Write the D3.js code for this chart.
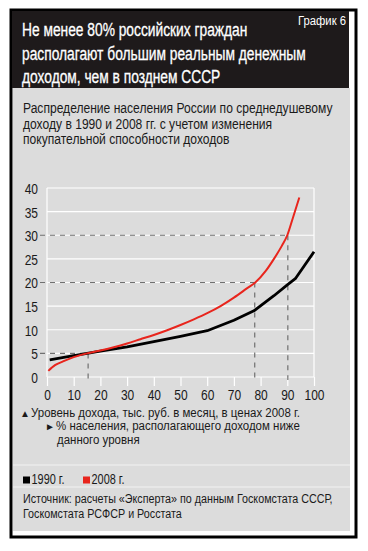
<!DOCTYPE html>
<html><head><meta charset="utf-8">
<script src="https://cdn.jsdelivr.net/npm/d3@7"></script>
<style>
body{margin:0;background:#fff}
svg{display:block}
text{font-family:"Liberation Sans",Arial,sans-serif}
</style>
</head><body>
<svg id="c" width="368" height="551"></svg>
<script>
// ---- data ----
const titleLines = ["Не менее 80% российских граждан", "располагают большим реальным денежным", "доходом, чем в позднем СССР"];
const chartNo = "График 6";
const subtitleLines = ["Распределение населения России по среднедушевому", "доходу в 1990 и 2008 гг. с учетом изменения", "покупательной способности доходов"];
const xTicks = [0,10,20,30,40,50,60,70,80,90,100];
const yTicks = [0,5,10,15,20,25,30,35,40];
const pop1990 = [1, 10, 15, 20, 30, 40, 50, 60, 70, 77.5, 85, 90, 93, 100];
const inc1990 = [3.6, 4.5, 5.0, 5.5, 6.4, 7.5, 8.6, 9.8, 12.0, 14.0, 17.2, 19.5, 20.8, 26.5];
const pop2008 = [0.5, 3, 6, 10, 15, 20, 25, 30, 35, 40, 45, 50, 55, 60, 65, 70, 75, 78, 82, 85, 88, 90, 92, 94.5];
const inc2008 = [1.3, 2.5, 3.3, 4.2, 5.0, 5.6, 6.3, 7.1, 8.0, 8.9, 9.9, 11.0, 12.2, 13.5, 15.0, 16.8, 18.8, 20.0, 22.5, 25.0, 27.8, 30.0, 33.5, 38.0];
const refPop = [15.4, 77.8, 90.2];
const refInc = [5, 20, 30];
const noteMarks = ["▲", "►", ""];
const noteLines = ["Уровень дохода, тыс. руб. в месяц, в ценах 2008 г.", "% населения, располагающего доходом ниже", "данного уровня"];
const seriesNames = ["1990 г.", "2008 г."];
const seriesColors = ["#000000", "#e8251d"];
const sourceLines = ["Источник: расчеты «Эксперта» по данным Госкомстата СССР,", "Госкомстата РСФСР и Росстата"];

// ---- drawing ----
const svg = d3.select("#c");
const ink = "#1a1a1a";

// draws lines of text at font size fs, horizontally condensed so that line refI is targetW wide
function block(lines, xs, y0, dy, fs, refI, targetW, fill, anchor){
  const g = svg.append("g");
  const t = g.selectAll("text").data(lines).join("text")
    .attr("font-size", fs).attr("fill", fill).attr("text-anchor", anchor || "start").text(d=>d);
  const L = t.nodes()[refI].getComputedTextLength();
  const k = targetW / L;
  t.attr("transform",(d,i)=>`translate(${Array.isArray(xs)?xs[i]:xs},${y0+i*dy}) scale(${k},1)`);
  return t;
}

// outer frame
svg.append("rect").attr("x",11).attr("y",10).attr("width",345).attr("height",527)
  .attr("fill","#fff").attr("stroke","#000").attr("stroke-width",3);
// grey panel
svg.append("rect").attr("x",13).attr("y",88).attr("width",337).attr("height",443).attr("fill","#dcdcdc");
// title box
svg.append("rect").attr("x",12).attr("y",11).attr("width",337).attr("height",77).attr("fill","#1e1a1b");
// separators
[465,487].forEach(y=>svg.append("line").attr("x1",13).attr("x2",350).attr("y1",y).attr("y2",y).attr("stroke","#f2f2f2").attr("stroke-width",1.2));

// title
block(titleLines, 22, 36, 23.5, 18, 1, 284, "#fff").attr("stroke","#fff").attr("stroke-width",0.3);
block([chartNo], 346, 25, 0, 12.5, 0, 48, "#fff", "end");

// subtitle
block(subtitleLines, 23, 113, 15.5, 14.5, 0, 310, ink);

// scales
const x = d3.scaleLinear().domain([0,100]).range([47,314]);
const y = d3.scaleLinear().domain([0,40]).range([377,188]);

// grid
svg.append("g").selectAll("line").data(yTicks).join("line")
  .attr("x1",x(0)).attr("x2",x(100)).attr("y1",d=>y(d)).attr("y2",d=>y(d))
  .attr("stroke","#fff").attr("stroke-width",1.2);
svg.append("g").selectAll("line").data([0,100]).join("line")
  .attr("x1",d=>x(d)).attr("x2",d=>x(d)).attr("y1",y(40)).attr("y2",y(0))
  .attr("stroke","#fff").attr("stroke-width",1.2);

// axes
const kTick = 0.8;
const xa = svg.append("g").attr("transform",`translate(0,${y(0)})`)
  .call(d3.axisBottom(x).tickValues(xTicks).tickSize(9).tickPadding(3).tickFormat(d3.format("d")));
xa.select(".domain").remove();
xa.selectAll(".tick line").attr("stroke","#fff").attr("stroke-width",1.2);
xa.selectAll(".tick text").attr("font-size",15).attr("fill",ink).attr("font-family",null)
  .attr("y",null).attr("dy",null).attr("transform",`translate(0,23) scale(${kTick},1)`);
const ya = svg.append("g").attr("transform",`translate(38,0)`)
  .call(d3.axisLeft(y).tickValues(yTicks).tickSize(0).tickPadding(0));
ya.select(".domain").remove();
ya.selectAll(".tick text").attr("font-size",15).attr("fill",ink).attr("font-family",null)
  .attr("x",null).attr("dy",null).attr("transform",`translate(0,5.4) scale(${kTick},1)`);

// reference dashed lines
const refs = refPop.map((p,i)=>({p, v:refInc[i]}));
svg.append("g").selectAll("line").data(refs).join("line")
  .attr("x1",40).attr("x2",d=>x(d.p)).attr("y1",d=>y(d.v)).attr("y2",d=>y(d.v))
  .attr("stroke","#707070").attr("stroke-width",1.2).attr("stroke-dasharray","5,5");
svg.append("g").selectAll("line").data(refs).join("line")
  .attr("x1",d=>x(d.p)).attr("x2",d=>x(d.p)).attr("y1",d=>y(d.v)).attr("y2",y(0)+3)
  .attr("stroke","#707070").attr("stroke-width",1.2).attr("stroke-dasharray","5,5");

// series
const d1990 = pop1990.map((p,i)=>[p,inc1990[i]]);
const d2008 = pop2008.map((p,i)=>[p,inc2008[i]]);
svg.append("path").datum(d1990).attr("fill","none").attr("stroke",seriesColors[0]).attr("stroke-width",2.8)
  .attr("stroke-linejoin","round")
  .attr("d",d3.line().x(d=>x(d[0])).y(d=>y(d[1])));
svg.append("path").datum(d2008).attr("fill","none").attr("stroke",seriesColors[1]).attr("stroke-width",2)
  .attr("d",d3.line().curve(d3.curveMonotoneX).x(d=>x(d[0])).y(d=>y(d[1])));

// notes (marker glyphs as separate small texts)
const noteY0 = 417, noteDy = 13.4;
svg.append("g").selectAll("text").data(noteMarks).join("text")
  .attr("x",(d,i)=>[20,45,57][i]).attr("y",(d,i)=>noteY0+i*noteDy - 0.5)
  .attr("font-size",10).attr("fill",ink).text(d=>d);
block(noteLines, [31,56,57], noteY0, noteDy, 12, 1, 244, ink);

// legend
const lx = [23,83];
const lg = svg.append("g").selectAll("g").data(seriesNames).join("g").attr("transform",(d,i)=>`translate(${lx[i]},0)`);
lg.append("rect").attr("x",0).attr("y",476.5).attr("width",7).attr("height",7).attr("fill",(d,i)=>seriesColors[i]);
const lt = lg.append("text").attr("font-size",15).attr("fill",ink).text(d=>d);
const kl = 33 / lt.nodes()[0].getComputedTextLength();
lt.attr("transform",`translate(8.5,484) scale(${kl},1)`);

// source
block(sourceLines, 23, 503, 14.5, 13.5, 0, 310, ink);
</script>
</body></html>
